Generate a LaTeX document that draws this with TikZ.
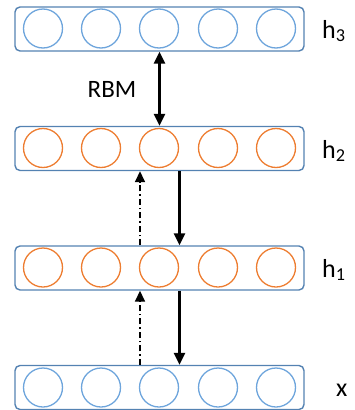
\documentclass[tikz,border=0pt]{standalone}
\usepackage{fontspec}
\setmainfont{Carlito}
\usetikzlibrary{arrows.meta}
\definecolor{boxblue}{RGB}{84,130,178}
\definecolor{cblue}{RGB}{110,165,220}
\definecolor{corange}{RGB}{237,125,49}
\begin{document}
\begin{tikzpicture}[x=1pt,y=-1pt,
  layerbox/.style={draw=boxblue,line width=1.4pt,rounded corners=5pt,minimum width=289pt,minimum height=44pt,inner sep=0pt},
  unitblue/.style={draw=cblue,line width=1.3pt,circle,minimum size=39pt,inner sep=0pt},
  unitorange/.style={draw=corange,line width=1.3pt,circle,minimum size=39pt,inner sep=0pt},
  lab/.style={font=\fontsize{26}{28}\selectfont,anchor=base west,inner sep=0pt},
  solidarrow/.style={line width=2.4pt,-{Triangle[length=12pt,width=11pt]}},
  dasharrow/.style={line width=1.6pt,dash pattern=on 6pt off 3pt on 1.5pt off 3pt,-{Triangle[length=11pt,width=10pt]}},
]
\useasboundingbox (0,0) rectangle (355,410);
\node[layerbox] (h3) at (159.5,29) {};
\node[layerbox] (h2) at (159.5,148.5) {};
\node[layerbox] (h1) at (159.5,268) {};
\node[layerbox] (x) at (159.5,387.5) {};
\foreach \i/\xx in {1/43,2/101,3/159,4/218,5/276}{
  \node[unitblue] (h3c\i) at (\xx,28.5) {};
  \node[unitorange] (h2c\i) at (\xx,148) {};
  \node[unitorange] (h1c\i) at (\xx,267.5) {};
  \node[unitblue] (xc\i) at (\xx,387.5) {};
}
\node[lab] (lh3) at (322,38) {h\textsubscript{3}};
\node[lab] (lh2) at (322,158) {h\textsubscript{2}};
\node[lab] (lh1) at (322,277) {h\textsubscript{1}};
\node[lab] (lx) at (336,396) {x};
\node[font=\fontsize{25}{27}\selectfont,inner sep=0pt] (rbm) at (112,89) {RBM};
\draw[line width=2.4pt,{Triangle[length=12pt,width=11pt]}-{Triangle[length=12pt,width=11pt]}] (h3.south) -- (h2.north);
\draw[solidarrow] ([xshift=20pt]h2.south) -- ([xshift=20pt]h1.north);
\draw[solidarrow] ([xshift=20pt]h1.south) -- ([xshift=20pt]x.north);
\draw[dasharrow] ([xshift=-19.5pt]h1.north) -- ([xshift=-19.5pt]h2.south);
\draw[dasharrow] ([xshift=-19.5pt]x.north) -- ([xshift=-19.5pt]h1.south);
\end{tikzpicture}
\end{document}
